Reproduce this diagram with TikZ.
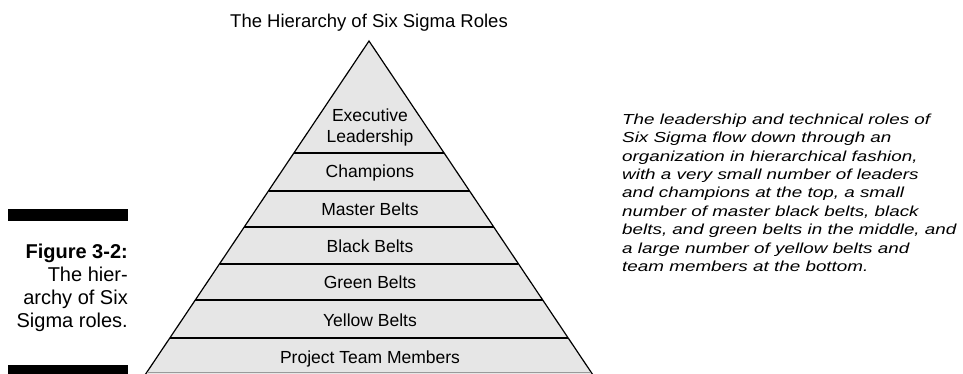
\documentclass[tikz,border=0pt]{standalone}
\usepackage{fontspec}
\setmainfont{Liberation Sans}
\newfontfamily\widefont{Liberation Sans}[FakeStretch=1.3]
\usepackage{xcolor}
\definecolor{band-gray}{HTML}{E6E6E6}
\definecolor{edge-gray}{HTML}{9A9A9A}
\usetikzlibrary{positioning}
\tikzset{role/.style = {align=center, text centered, inner sep=0pt, anchor=base, font=\fontsize{17.5}{21}\selectfont}}
\tikzset{divider/.style = {line width=1.3pt}}
\tikzset{capbar/.style = {fill=black}}
\tikzset{blurb/.style = {align=left, inner sep=0pt, font=\widefont\itshape\fontsize{14.5}{18.4}\selectfont}}

\begin{document}
\begin{tikzpicture}[x=1pt, y=-1pt]
\useasboundingbox (0,0) rectangle (963,374);

% pyramid
\coordinate (apex) at (369,41);
\coordinate (base-l) at (145,375);
\coordinate (base-r) at (593,375);
\fill[band-gray] (apex) -- (base-l) -- (base-r) -- cycle;
\draw[line width=1.2pt] (base-l) -- (apex) -- (base-r);
\draw[edge-gray, line width=1pt] (147,372.5) -- (590,372.5);
\foreach \y in {153,191,227,264,300,338}
  \draw[divider] ({369-0.67*(\y-41)},\y) -- ({369+0.67*(\y-41)},\y);

\node[font=\fontsize{18.5}{22}\selectfont, anchor=base] (title) at (369,28) {The Hierarchy of Six Sigma Roles};

\node[role] (exec) at (370,122) {Executive};
\node[role] (lead) at (370,143) {Leadership};
\node[role] (champ) at (370,178) {Champions};
\node[role] (master) at (370,215) {Master Belts};
\node[role] (black) at (370,252) {Black Belts};
\node[role] (green) at (370,288) {Green Belts};
\node[role] (yellow) at (370,326) {Yellow Belts};
\node[role] (team) at (370,363) {Project Team Members};

% caption on the left
\fill[capbar] (8,209) rectangle (128,221);
\fill[capbar] (8,365) rectangle (128,374);
\node[anchor=north east, align=right, inner sep=0pt,
  font=\fontsize{20}{23.2}\selectfont] (caption) at (128,243.5)
  {\textbf{Figure 3-2:}\\The hier-\\archy of Six\\Sigma roles.};

\node[blurb, anchor=north west] (blurb) at (622,113.5) {%
The leadership and technical roles of\\
Six Sigma flow down through an\\
organization in hierarchical fashion,\\
with a very small number of leaders\\
and champions at the top, a small\\
number of master black belts, black\\
belts, and green belts in the middle, and\\
a large number of yellow belts and\\
team members at the bottom.};

\end{tikzpicture}
\end{document}
